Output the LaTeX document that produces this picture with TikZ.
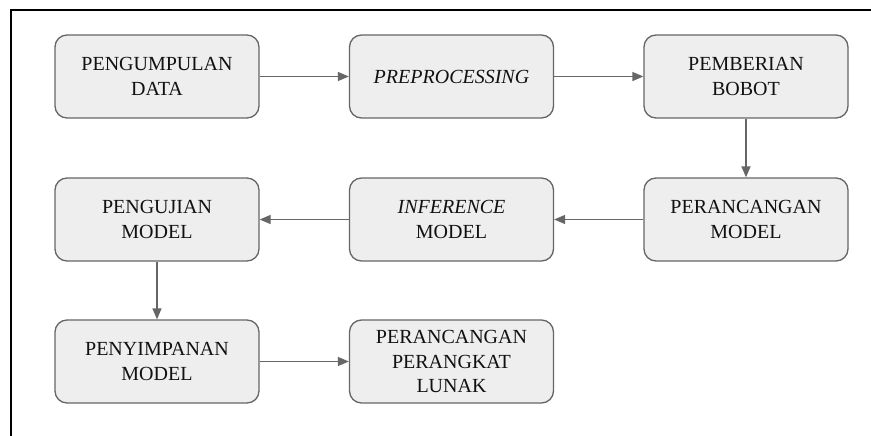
\documentclass[tikz,border=0pt]{standalone}
\usepackage{fontspec}
\setmainfont{Liberation Serif}
\usetikzlibrary{arrows.meta}
\definecolor{boxfill}{HTML}{EEEEEE}
\definecolor{boxline}{HTML}{666666}
\definecolor{txt}{HTML}{111111}
\tikzset{
  stage/.style={draw=boxline, fill=boxfill, line width=1.3pt, rounded corners=12pt,
    minimum width=204pt, minimum height=83pt, align=center, text=txt,
    font=\fontsize{20}{24.5}\selectfont, inner sep=2pt},
  flow/.style={draw=boxline, line width=1.3pt, -{Triangle[length=11pt,width=9pt]}},
  frame/.style={draw=black, line width=2.2pt}
}
\begin{document}
\begin{tikzpicture}[x=1pt,y=-1pt]
\useasboundingbox (0,0) rectangle (871,436);
% partial outer frame
\coordinate (ftl) at (11,10);
\coordinate (ftr) at (871,10);
\coordinate (fbl) at (11,436);
\draw[frame] (ftr) -- (ftl) -- (fbl);

% row 1
\node[stage] (kumpul) at (157,76.5) {PENGUMPULAN\\DATA};
\node[stage] (prep) at (451.5,76.5) {\textit{PREPROCESSING}};
\node[stage] (bobot) at (746,76.5) {PEMBERIAN\\BOBOT};
% row 2
\node[stage] (rancang) at (746,219.5) {PERANCANGAN\\MODEL};
\node[stage] (infer) at (451.5,219.5) {\textit{INFERENCE}\\MODEL};
\node[stage] (uji) at (157,219.5) {PENGUJIAN\\MODEL};
% row 3
\node[stage] (simpan) at (157,361.5) {PENYIMPANAN\\MODEL};
\node[stage] (lunak) at (451.5,361.5) {PERANCANGAN\\PERANGKAT\\LUNAK};

% connectors
\draw[flow] (kumpul) -- (prep);
\draw[flow] (prep) -- (bobot);
\draw[flow] (bobot) -- (rancang);
\draw[flow] (rancang) -- (infer);
\draw[flow] (infer) -- (uji);
\draw[flow] (uji) -- (simpan);
\draw[flow] (simpan) -- (lunak);
\end{tikzpicture}
\end{document}
